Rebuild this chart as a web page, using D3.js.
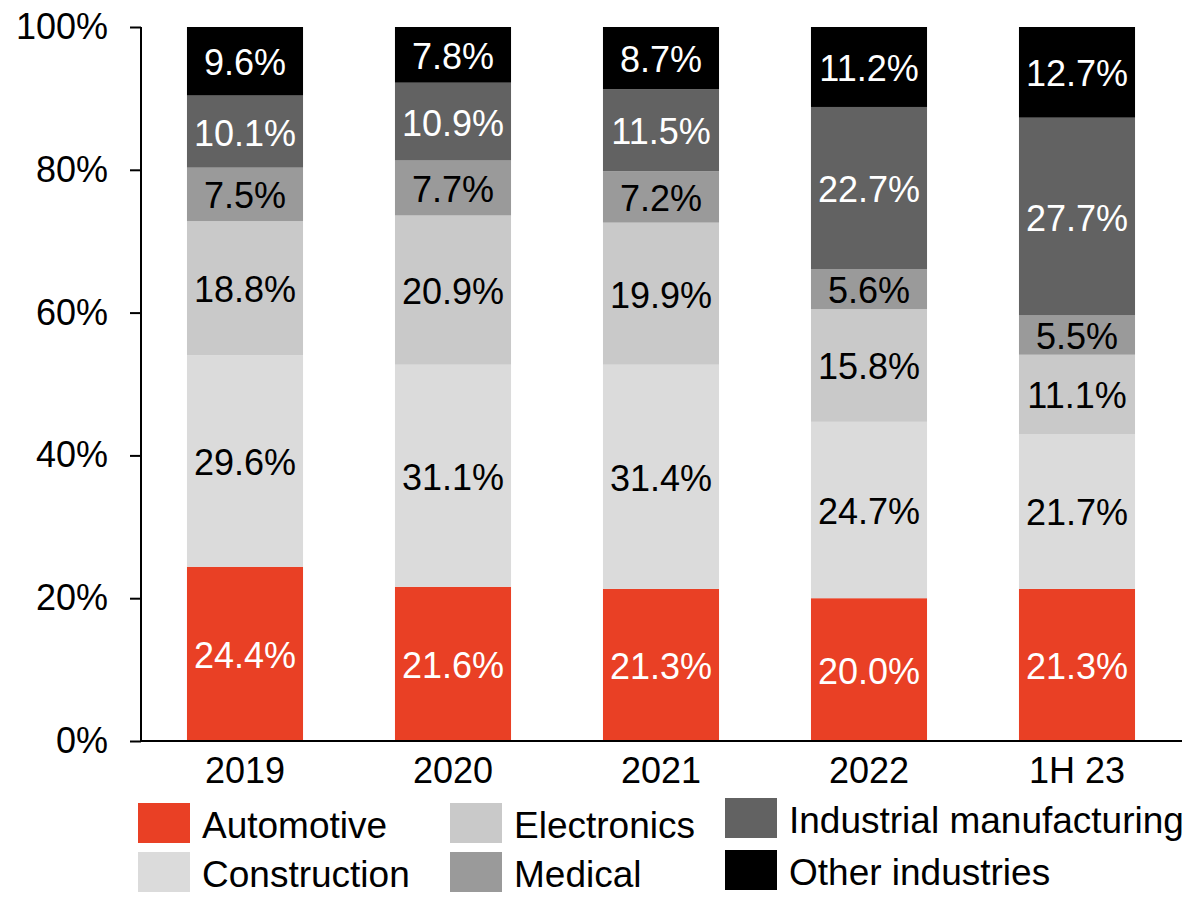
<!DOCTYPE html>
<html>
<head>
<meta charset="utf-8">
<script src="https://cdn.jsdelivr.net/npm/d3@7"></script>
<style>
  html, body { margin: 0; padding: 0; background: #fff; }
  svg { display: block; font-family: "Liberation Sans", Arial, sans-serif; }
</style>
</head>
<body>
<svg id="chart" width="1191" height="900"></svg>
<script>
// Periods on the x axis
const periods = ["2019", "2020", "2021", "2022", "1H 23"];

// Industry names, bottom of the stack first
const industries = ["Automotive", "Construction", "Electronics", "Medical", "Industrial manufacturing", "Other industries"];

// Share of each industry per period (%)
const automotive   = [24.4, 21.6, 21.3, 20.0, 21.3];
const construction = [29.6, 31.1, 31.4, 24.7, 21.7];
const electronics  = [18.8, 20.9, 19.9, 15.8, 11.1];
const medical      = [7.5, 7.7, 7.2, 5.6, 5.5];
const industrial   = [10.1, 10.9, 11.5, 22.7, 27.7];
const other        = [9.6, 7.8, 8.7, 11.2, 12.7];

// Y axis tick values (%)
const yTicks = [0, 20, 40, 60, 80, 100];

const seriesValues = [automotive, construction, electronics, medical, industrial, other];
const colors = ["#E94025", "#DBDBDB", "#C9C9C9", "#9A9A9A", "#626262", "#000000"];
const labelColors = ["#fff", "#000", "#000", "#000", "#fff", "#fff"];

const rows = periods.map((p, i) => {
  const r = { period: p };
  industries.forEach((name, k) => { r[name] = seriesValues[k][i]; });
  return r;
});

const svg = d3.select("#chart");
const fontSize = 36;

const x = d3.scaleBand()
  .domain(periods)
  .range([141, 1181])
  .paddingInner(0.442)
  .paddingOuter(0.221);

const y = d3.scaleLinear()
  .domain([0, 100])
  .range([741, 27]);

const stacked = d3.stack().keys(industries)(rows);

// Stacked bars
const layers = svg.append("g").selectAll("g")
  .data(stacked)
  .join("g")
  .attr("fill", (d, i) => colors[i]);

layers.selectAll("rect")
  .data(d => d)
  .join("rect")
  .attr("x", d => x(d.data.period))
  .attr("width", x.bandwidth())
  .attr("y", d => y(d[1]))
  .attr("height", d => y(d[0]) - y(d[1]));

// Value labels centred in each segment
const labels = svg.append("g").attr("font-size", fontSize).attr("text-anchor", "middle");
stacked.forEach((layer, i) => {
  labels.append("g")
    .attr("fill", labelColors[i])
    .selectAll("text")
    .data(layer)
    .join("text")
    .attr("x", d => x(d.data.period) + x.bandwidth() / 2)
    .attr("y", d => y((d[0] + d[1]) / 2))
    .attr("dy", "0.39em")
    .text(d => (d[1] - d[0]).toFixed(1) + "%");
});

// Y axis
const yAxis = svg.append("g")
  .attr("transform", "translate(141,0)")
  .call(d3.axisLeft(y).tickValues(yTicks).tickSize(11).tickPadding(22).tickFormat(d => d + "%"));
yAxis.selectAll("path, line").attr("stroke", "#000").attr("stroke-width", 2);
yAxis.select(".domain").attr("d", "M0," + y(100) + "V" + y(0));
yAxis.selectAll("text")
  .attr("font-size", fontSize)
  .attr("font-family", "Liberation Sans, Arial, sans-serif")
  .attr("fill", "#000");

// X axis
const xAxis = svg.append("g")
  .attr("transform", "translate(0,741)")
  .call(d3.axisBottom(x).tickSize(0).tickPadding(16));
xAxis.select(".domain").attr("stroke", "#000").attr("stroke-width", 2)
  .attr("d", "M141,0H1182");
xAxis.selectAll("text")
  .attr("font-size", fontSize)
  .attr("font-family", "Liberation Sans, Arial, sans-serif")
  .attr("fill", "#000");

// Legend: three columns, two rows (filled column by column)
const legendCols = [138, 450, 725];
const legendRowsByCol = [[803, 852], [803, 852], [798, 850]];
const legend = svg.append("g").attr("font-size", 37);
industries.forEach((name, i) => {
  const col = Math.floor(i / 2);
  const row = i % 2;
  const top = legendRowsByCol[col][row];
  const g = legend.append("g").attr("transform", `translate(${legendCols[col]},${top})`);
  g.append("rect").attr("width", 52).attr("height", 40).attr("fill", colors[i]);
  g.append("text").attr("x", 64).attr("y", 35).attr("fill", "#000").text(name);
});
</script>
</body>
</html>
